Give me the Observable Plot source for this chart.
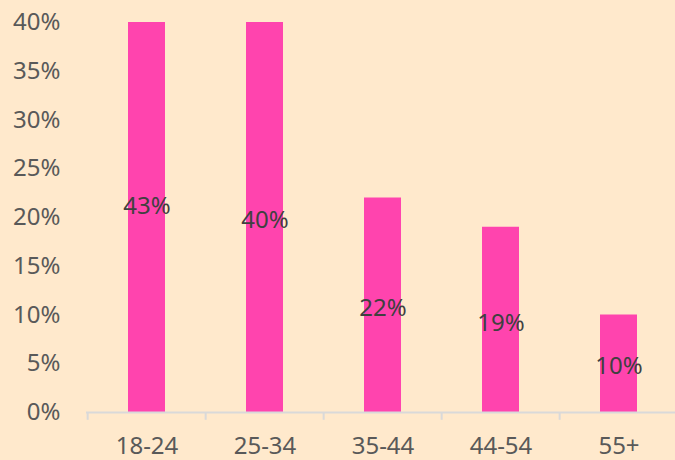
<!DOCTYPE html>
<html>
<head>
<meta charset="utf-8">
<script src="https://cdn.jsdelivr.net/npm/d3@7"></script>
<script src="https://cdn.jsdelivr.net/npm/@observablehq/plot@0.6"></script>
<style>
  html, body { margin: 0; padding: 0; background: #FFE9CC; }
  #chart svg { display: block; }
</style>
</head>
<body>
<div id="chart"></div>
<script>
const ageGroups = ["18-24", "25-34", "35-44", "44-54", "55+"];
const shares = [43, 40, 22, 19, 10];
const yTicks = [0, 5, 10, 15, 20, 25, 30, 35, 40];

const data = ageGroups.map((g, i) => ({group: g, value: shares[i]}));

const xRange = [86, 679.5];
const bandStep = (xRange[1] - xRange[0]) / ageGroups.length;
const font = "'Noto Sans', 'Open Sans', sans-serif";

const chart = Plot.plot({
  width: 675,
  height: 460,
  marginLeft: 86,
  marginRight: 0,
  marginTop: 22,
  marginBottom: 48,
  style: {background: "#FFE9CC", fontFamily: font, fontSize: "24px", color: "#595959"},
  x: {domain: ageGroups, range: xRange, paddingInner: 0.69, paddingOuter: 0.345, align: 0.5},
  y: {domain: [0, 40], label: null},
  marks: [
    Plot.axisY({ticks: yTicks, tickSize: 0, tickPadding: 26, tickFormat: d => d + "%", label: null, fill: "#595959", fontSize: 24}),
    Plot.axisX({tickSize: 0, tickPadding: 24, label: null, fill: "#595959", fontSize: 24}),
    Plot.barY(data, {x: "group", y: "value", fill: "#FF44AE", clip: true}),
    Plot.ruleY([0], {stroke: "#D9D9D9", strokeWidth: 2}),
    Plot.ruleX(ageGroups, {x: d => d, dx: -bandStep / 2, y1: 0, y2: -0.8, stroke: "#D9D9D9", strokeWidth: 2}),
    Plot.text(data, {x: "group", y: d => d.value / 2, text: d => d.value + "%", dy: 3, fill: "#404040", fontSize: 24})
  ]
});
document.getElementById("chart").appendChild(chart);
</script>
</body>
</html>
